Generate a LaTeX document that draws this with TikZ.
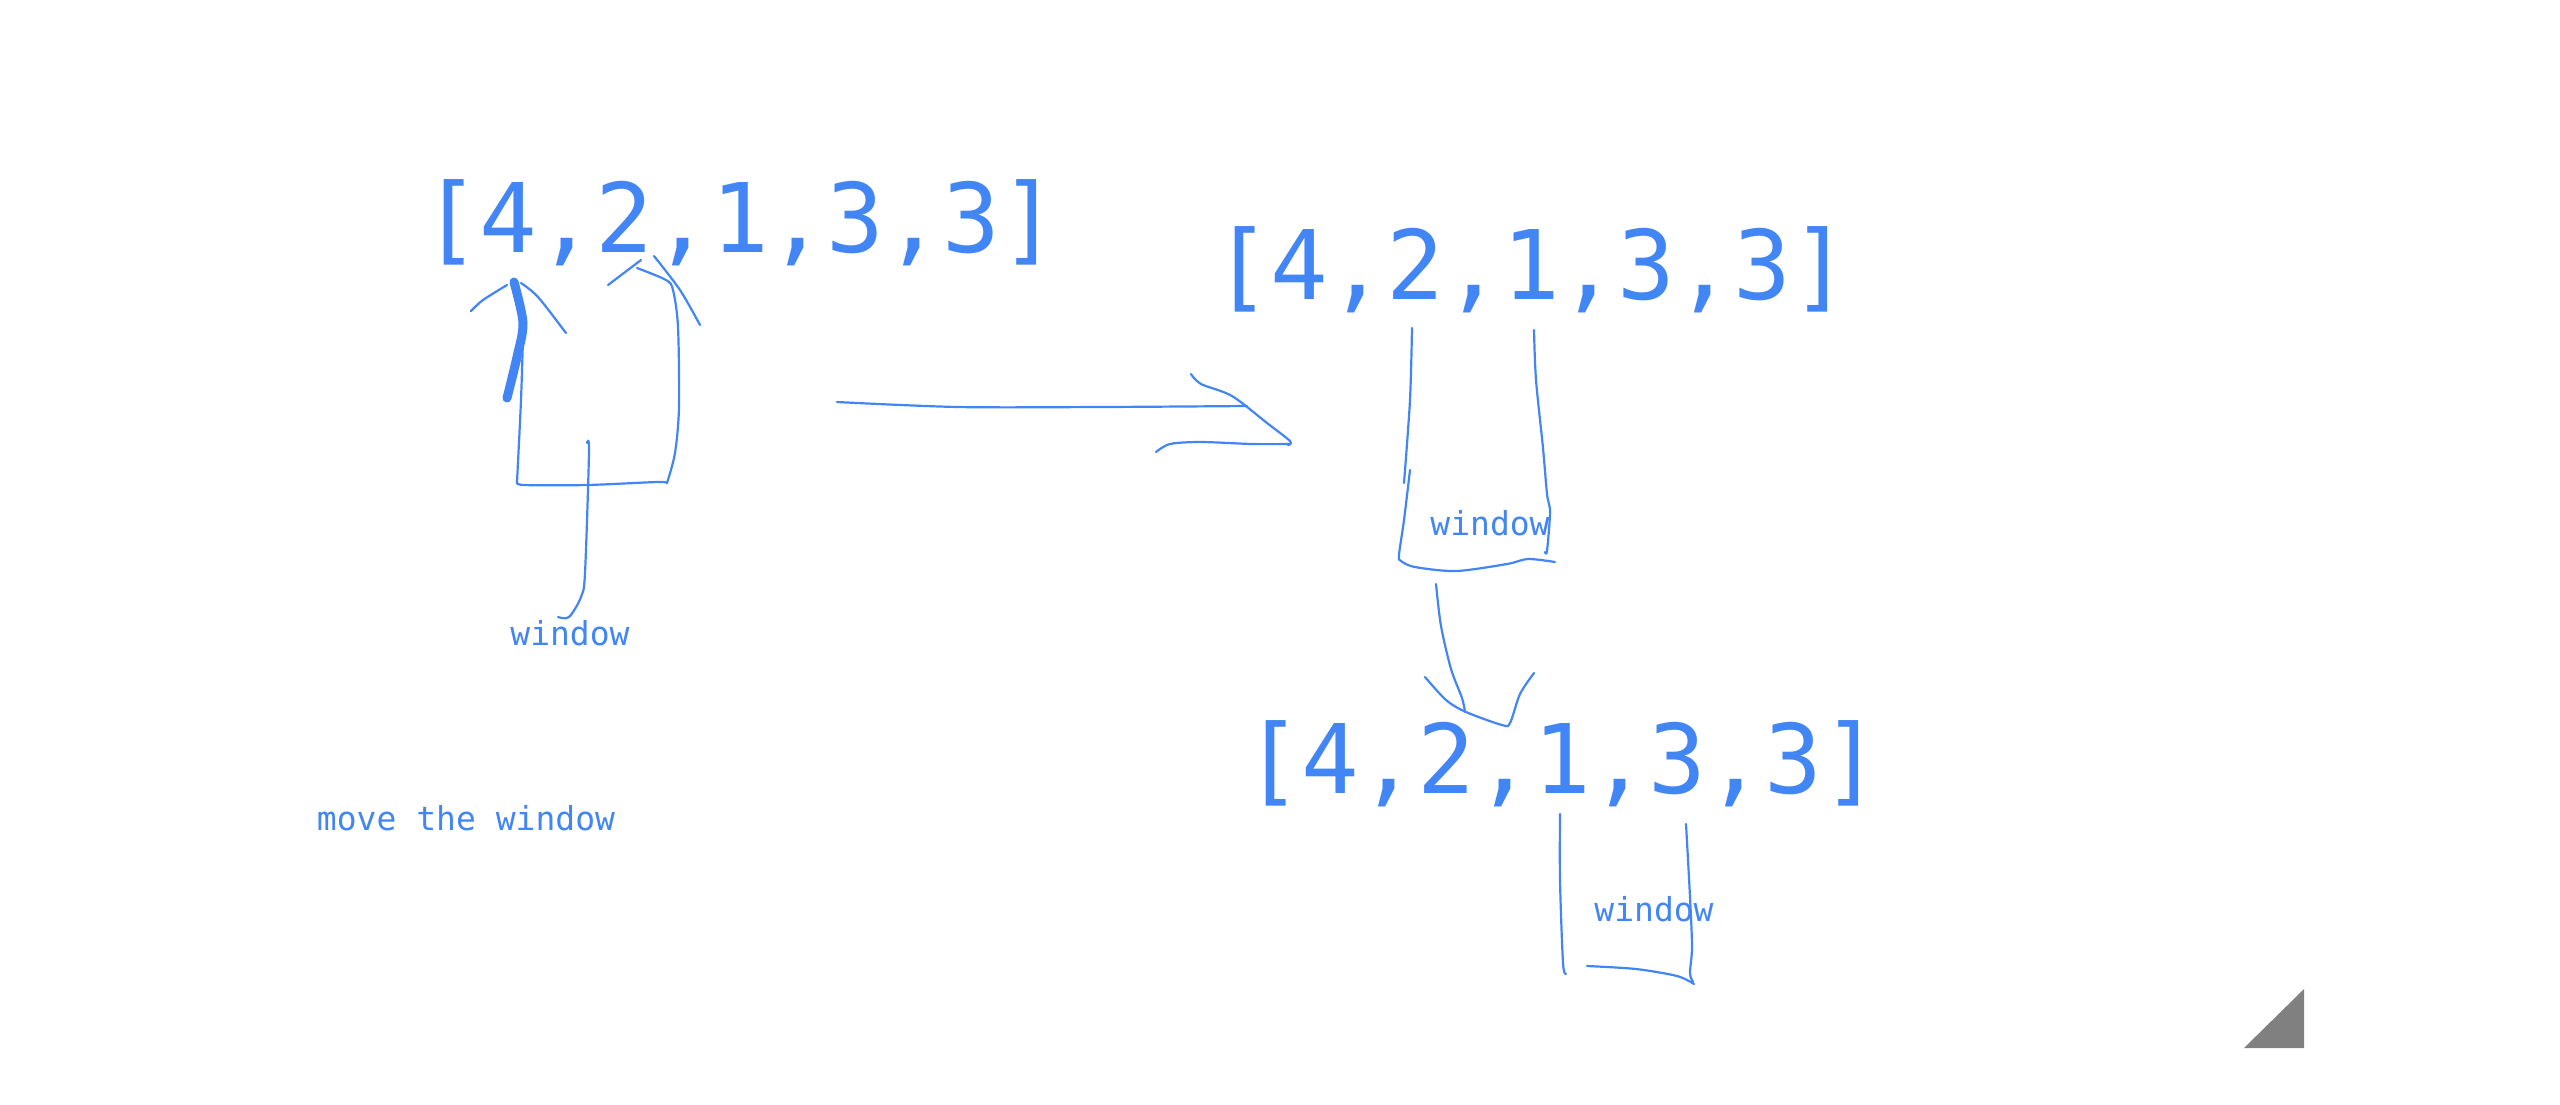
\documentclass[tikz,border=0pt]{standalone}
\usepackage{fontspec}
\setmonofont{DejaVu Sans Mono}
\definecolor{ink}{HTML}{4285F4}
\definecolor{marker}{HTML}{808080}

\begin{document}
\begin{tikzpicture}[x=0.5bp,y=-0.5bp,
  pen/.style={draw=ink,line width=1.1bp,line cap=round,line join=round},
  heavypen/.style={draw=ink,line width=4.5bp,line cap=round},
  arr/.style={text=ink,font=\ttfamily\fontsize{48bp}{50bp}\selectfont,inner sep=0pt,anchor=base},
  note/.style={text=ink,font=\ttfamily\fontsize{16.5bp}{18bp}\selectfont,inner sep=0pt,anchor=base}]
\useasboundingbox (0,0) rectangle (2560,1104);
\node[arr] (list1) at (740,252) {[4,2,1,3,3]};
\node[arr] (list2) at (1531,299) {[4,2,1,3,3]};
\node[arr] (list3) at (1562,793) {[4,2,1,3,3]};
\node[note] (win1) at (570,645) {window};
\node[note] (win2) at (1490,535) {window};
\node[note] (win3) at (1654,921) {window};
\node[note] (move) at (466,830) {move the window};
% first window
\draw[heavypen] plot[smooth] coordinates {(514,282) (523,323) (517,357) (507,398)};
\draw[pen] plot[smooth] coordinates {(471,311) (483,300) (507,285)};
\draw[pen] plot[smooth] coordinates {(521,283) (538,297) (566,333)};
\draw[pen] plot[smooth] coordinates {(523,337) (521,400) (517,482)};
\draw[pen] plot[smooth] coordinates {(517,482) (524,485) (587,485) (657,482) (667,483)};
\draw[pen] plot[smooth] coordinates {(667,483) (675,453) (679,407) (678,327) (673,290) (666,280) (637,268)};
\draw[pen] (608,285) -- (641,260);
\draw[pen] plot[smooth] coordinates {(654,256) (680,290) (700,325)};
\draw[pen] plot[smooth] coordinates {(587,443) (589,452) (585,573) (581,597) (569,617) (558,617)};
% move arrow
\draw[pen] plot[smooth] coordinates {(837,402) (958,407) (1100,407) (1247,406)};
\draw[pen] plot[smooth] coordinates {(1191,374) (1201,384) (1232,396) (1267,423) (1290,441) (1288,445)};
\draw[pen] plot[smooth] coordinates {(1156,452) (1170,444) (1201,442) (1252,444) (1290,444)};
% second window
\draw[pen] plot[smooth] coordinates {(1412,328) (1410,400) (1404,483)};
\draw[pen] plot[smooth] coordinates {(1410,470) (1404,520) (1399,555) (1401,561) (1415,567) (1456,571) (1507,564) (1528,559) (1555,562)};
\draw[pen] plot[smooth] coordinates {(1534,330) (1536,380) (1543,448) (1547,494) (1550,512) (1547,551) (1545,552)};
\draw[pen] plot[smooth] coordinates {(1436,584) (1441,626) (1451,669) (1462,698) (1465,712)};
\draw[pen] plot[smooth] coordinates {(1425,677) (1446,700) (1466,712) (1502,725) (1510,723) (1520,694) (1534,673)};
% third window
\draw[pen] plot[smooth] coordinates {(1560,814) (1560,880) (1563,963) (1566,974)};
\draw[pen] plot[smooth] coordinates {(1587,966) (1636,969) (1677,976) (1694,984)};
\draw[pen] plot[smooth] coordinates {(1686,824) (1690,897) (1692,947) (1690,973) (1693,982)};
\fill[marker] (2244,1048) -- (2304,1048) -- (2304,989) -- cycle;
\end{tikzpicture}
\end{document}
